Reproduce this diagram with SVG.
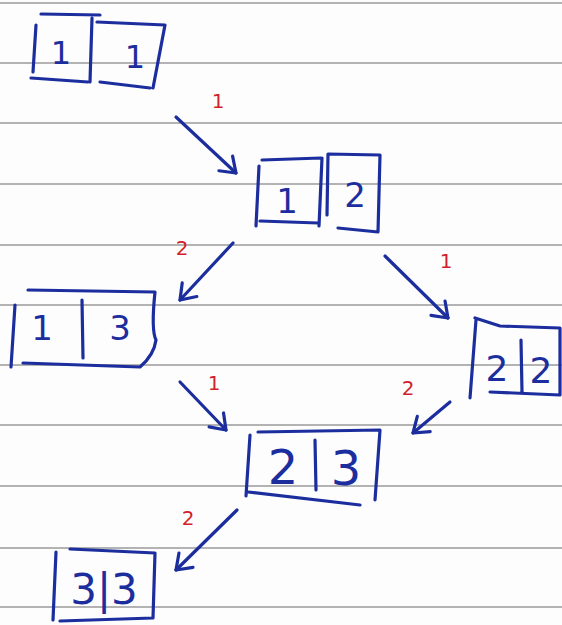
<svg xmlns="http://www.w3.org/2000/svg" width="562" height="625" viewBox="0 0 562 625">
<style>
.rule{stroke:#b3b3b3;stroke-width:2}
.ink{fill:none;stroke:#1c2e9e;stroke-width:3.2;stroke-linecap:round;stroke-linejoin:round}
.dig{fill:#1c2e9e;font-family:"DejaVu Sans",sans-serif;text-anchor:middle}
.lbl{fill:#d21f2c;font-family:"DejaVu Sans",sans-serif;font-size:20px;text-anchor:middle}
</style>
<defs>
<marker id="ah" markerUnits="userSpaceOnUse" markerWidth="24" markerHeight="28" viewBox="-18 -14 22 28" refX="0" refY="0" orient="auto">
<path d="M-14,-10 L0,0 L-14,10" fill="none" stroke="#1c2e9e" stroke-width="3.2" stroke-linecap="round" stroke-linejoin="round"/>
</marker>
</defs>
<rect width="562" height="625" fill="#fdfdfd"/>
<g id="paper">
<line class="rule" x1="0" y1="3" x2="562" y2="3"/>
<line class="rule" x1="0" y1="63" x2="562" y2="63"/>
<line class="rule" x1="0" y1="123" x2="562" y2="123"/>
<line class="rule" x1="0" y1="184" x2="562" y2="184"/>
<line class="rule" x1="0" y1="245" x2="562" y2="245"/>
<line class="rule" x1="0" y1="305" x2="562" y2="305"/>
<line class="rule" x1="0" y1="365" x2="562" y2="365"/>
<line class="rule" x1="0" y1="425" x2="562" y2="425"/>
<line class="rule" x1="0" y1="486" x2="562" y2="486"/>
<line class="rule" x1="0" y1="548" x2="562" y2="548"/>
<line class="rule" x1="0" y1="607" x2="562" y2="607"/>
</g>
<g id="connectors">
<line class="ink" x1="176" y1="117" x2="236" y2="173" marker-end="url(#ah)"/>
<line class="ink" x1="233" y1="243" x2="180" y2="300" marker-end="url(#ah)"/>
<line class="ink" x1="385" y1="256" x2="448" y2="318" marker-end="url(#ah)"/>
<line class="ink" x1="180" y1="382" x2="226" y2="430" marker-end="url(#ah)"/>
<line class="ink" x1="450" y1="402" x2="413" y2="433" marker-end="url(#ah)"/>
<line class="ink" x1="237" y1="510" x2="176" y2="570" marker-end="url(#ah)"/>
<text class="lbl" x="218" y="108">1</text>
<text class="lbl" x="182" y="255">2</text>
<text class="lbl" x="446" y="268">1</text>
<text class="lbl" x="214" y="390">1</text>
<text class="lbl" x="408" y="395">2</text>
<text class="lbl" x="188" y="525">2</text>
</g>
<g id="node-11">
<path class="ink" d="M41 14 L100 15 M36 25 L33 72 M31 78 L88 82 M92 18 L90 82 M97 22 L165 25 L153 88 M100 82 L150 88"/>
<text class="dig" x="61" y="64" font-size="32">1</text>
<text class="dig" x="135" y="68" font-size="32">1</text>
</g>
<g id="node-12">
<path class="ink" d="M262 160 L321 158 M259 166 L256 226 M260 221 L318 223 M322 158 L319 226 M328 154 L380 155 L378 232 L338 228 M328 154 L327 215"/>
<text class="dig" x="287" y="213" font-size="34">1</text>
<text class="dig" x="355" y="207" font-size="34">2</text>
</g>
<g id="node-13">
<path class="ink" d="M28 290 L155 292 Q151 330 156 340 Q154 355 140 367 L23 363 M15 305 L11 367 M82 300 L83 358"/>
<text class="dig" x="42" y="340" font-size="34">1</text>
<text class="dig" x="120" y="340" font-size="34">3</text>
</g>
<g id="node-22">
<path class="ink" d="M476 320 L470 398 M475 318 L500 326 L560 328 L560 395 L490 392 M521 340 L522 392"/>
<text class="dig" x="497" y="381" font-size="36">2</text>
<text class="dig" x="541" y="383" font-size="36">2</text>
</g>
<g id="node-23">
<path class="ink" d="M250 435 L246 496 M258 432 L380 430 L375 500 M248 492 L360 505 M315 440 L316 490"/>
<text class="dig" x="283" y="484" font-size="48">2</text>
<text class="dig" x="346" y="485" font-size="48">3</text>
</g>
<g id="node-33">
<path class="ink" d="M56 552 L53 620 M70 549 L155 553 L153 618 L60 621"/>
<text class="dig" x="104" y="604" font-size="42">3|3</text>
</g>
</svg>
